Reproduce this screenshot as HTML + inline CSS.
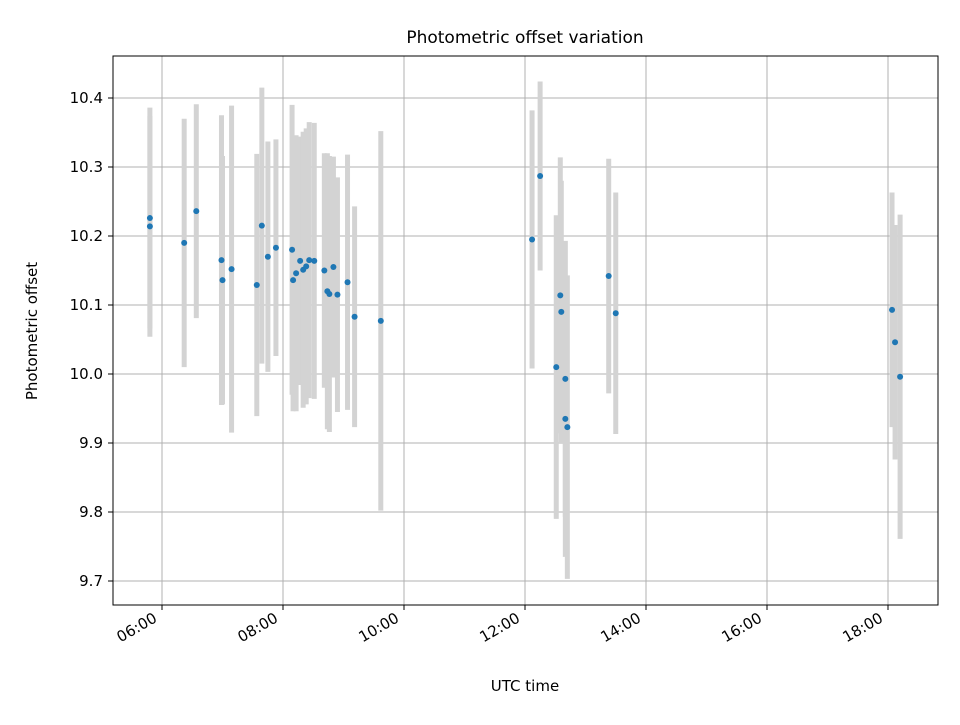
<!DOCTYPE html>
<html><head><meta charset="utf-8"><style>
body{margin:0;background:#fff;font-family:"Liberation Sans","DejaVu Sans",sans-serif}
</style></head><body>
<svg width="960" height="720" xmlns="http://www.w3.org/2000/svg" style="font-family:'DejaVu Sans','Liberation Sans',sans-serif">
<rect width="960" height="720" fill="#fff"/>
<g id="grid"></g><g id="bars"></g><g id="pts"></g><g id="axes"></g>
<rect x="113" y="56" width="825" height="549" fill="none" stroke="#000" stroke-width="1"/>
<text x="525" y="43" text-anchor="middle" font-size="17">Photometric offset variation</text>
<text x="525" y="691" text-anchor="middle" font-size="15">UTC time</text>
<text transform="translate(37,331) rotate(-90)" text-anchor="middle" font-size="15">Photometric offset</text>
</svg>
<script>
const times=["05:48","05:48","06:22","06:34","06:59","07:00","07:09","07:34","07:39","07:45","07:53","08:09","08:10","08:13","08:17","08:20","08:23","08:26","08:31","08:41","08:44","08:46","08:50","08:54","09:04","09:11","09:37","12:07","12:15","12:31","12:35","12:36","12:40","12:40","12:42","13:23","13:30","18:04","18:07","18:12"];
const offsets=[10.226,10.214,10.19,10.236,10.165,10.136,10.152,10.129,10.215,10.17,10.183,10.18,10.136,10.146,10.164,10.151,10.156,10.165,10.164,10.15,10.12,10.116,10.155,10.115,10.133,10.083,10.077,10.195,10.287,10.01,10.114,10.09,9.993,9.935,9.923,10.142,10.088,10.093,10.046,9.996];
const errors=[0.16,0.16,0.18,0.155,0.21,0.18,0.237,0.19,0.2,0.167,0.157,0.21,0.19,0.2,0.18,0.2,0.2,0.2,0.2,0.17,0.2,0.2,0.16,0.17,0.185,0.16,0.275,0.187,0.137,0.22,0.2,0.19,0.2,0.2,0.22,0.17,0.175,0.17,0.17,0.235];
const xTicks=["06:00","08:00","10:00","12:00","14:00","16:00","18:00"];
const yTicks=[9.7,9.8,9.9,10.0,10.1,10.2,10.3,10.4];
const NS="http://www.w3.org/2000/svg";
function hrs(t){const p=t.split(":");return +p[0]+p[1]/60;}
function xS(t){return 162+(hrs(t)-6)*60.5;}
function yS(v){return 374-(v-10)*690;}
function mk(tag,attrs,parent){const e=document.createElementNS(NS,tag);for(const k in attrs)e.setAttribute(k,attrs[k]);document.getElementById(parent).appendChild(e);return e;}
xTicks.forEach(t=>{const x=xS(t);
 const g=mk("line",{x1:x,x2:x,y1:56,y2:605,stroke:"#b0b0b0","stroke-width":1},"grid");
 
 
 mk("line",{x1:x,x2:x,y1:605,y2:610,stroke:"#000"},"axes");
 const tx=mk("text",{x:x-4,y:621,"text-anchor":"end","font-size":15,transform:`rotate(-30 ${x-4} 621)`},"axes");
 tx.textContent=t;
 
 
});
yTicks.forEach(v=>{const y=yS(v);
 const g=mk("line",{x1:113,x2:938,y1:y,y2:y,stroke:"#b0b0b0","stroke-width":1},"grid");
 
 
 mk("line",{x1:108,x2:113,y1:y,y2:y,stroke:"#000"},"axes");
 const tx=mk("text",{x:103,y:y+5,"text-anchor":"end","font-size":15},"axes");
 tx.textContent=v.toFixed(1);
 
 
});
times.forEach((t,i)=>{const x=xS(t);
 const b=mk("line",{x1:x,x2:x,y1:yS(offsets[i]+errors[i]),y2:yS(offsets[i]-errors[i]),stroke:"#d3d3d3","stroke-width":5},"bars");
 
 
 const c=mk("circle",{cx:x,cy:yS(offsets[i]),r:3,fill:"#1f77b4"},"pts");
 
 
});
</script>
</body></html>
